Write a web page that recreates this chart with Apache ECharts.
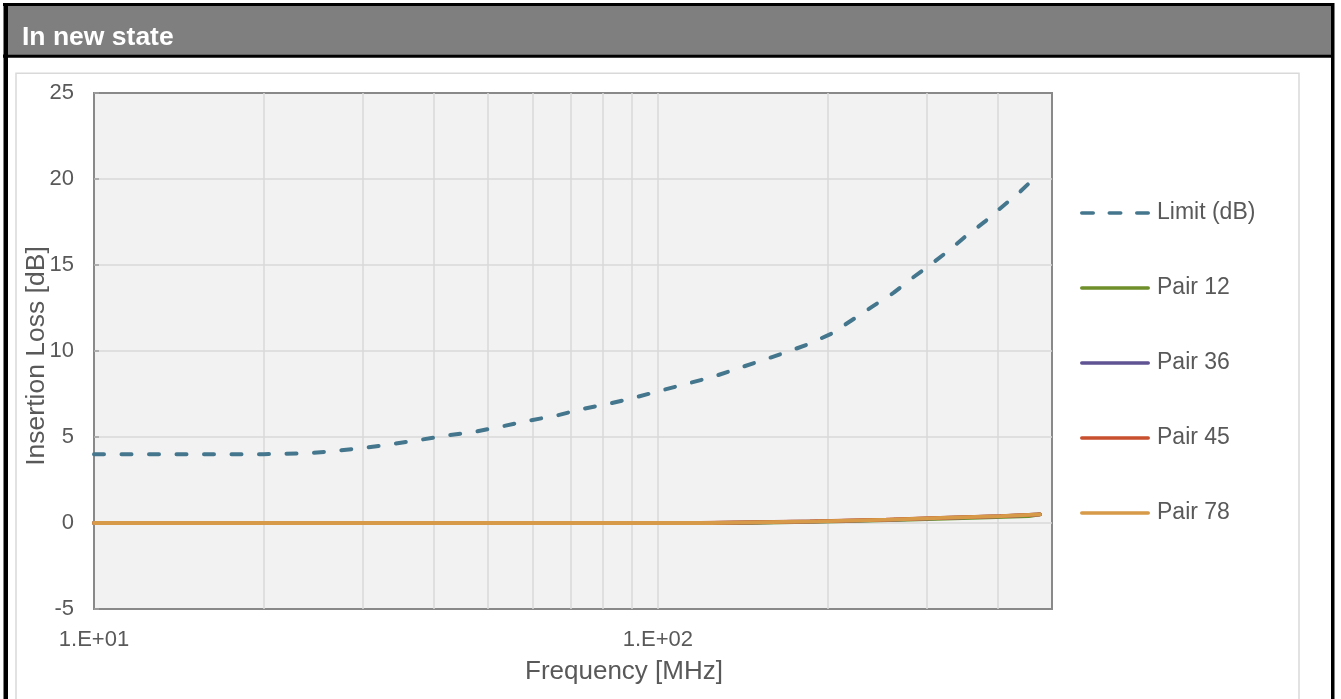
<!DOCTYPE html>
<html>
<head>
<meta charset="utf-8">
<script src="https://cdn.jsdelivr.net/npm/echarts@6/dist/echarts.min.js"></script>
<style>
html,body{margin:0;padding:0;background:#fff;}
#c{width:1341px;height:699px;}
</style>
</head>
<body>
<div id="c"></div>
<script>
// ---- data ----
const titleText = 'In new state';
const seriesNames = ['Limit (dB)', 'Pair 12', 'Pair 36', 'Pair 45', 'Pair 78'];
const limitFreq = [10,15,20,24,27,30,34,38,42,47.5,53,59,66,73,82,91,101,112,125,137,152,168,185,203,220,240,262,282,305,329,352,380,408,437,467,476];
const limitDb   = [4.0,4.0,4.0,4.05,4.2,4.36,4.6,4.84,5.08,5.31,5.62,5.95,6.24,6.61,6.94,7.29,7.69,8.08,8.49,8.93,9.42,9.9,10.4,11.0,11.76,12.58,13.39,14.22,15.04,15.87,16.69,17.52,18.39,19.2,20.1,20.35];
// change points [frequency MHz, insertion loss dB]
const pair12 = [[10,0],[140,0.1],[207,0.2],[280,0.3],[360,0.4],[455,0.5],[476,0.5]];
const pair36 = [[10,0],[126,0.1],[194,0.2],[262,0.3],[322,0.4],[410,0.5],[476,0.5]];
const pair45 = [[10,0],[119,0.1],[186,0.2],[254,0.3],[316,0.4],[404,0.5],[476,0.5]];
const pair78 = [[10,0],[124,0.1],[192,0.2],[258,0.3],[318,0.4],[406,0.5],[476,0.5]];
const minorGridFreq = [20,30,40,50,60,70,80,90,200,300,400];
const yTicks = {min: -5, max: 25, interval: 5};
const xRange = {min: 10, max: 500};
const colors = ['#44768d', '#6f8f2a', '#5f5393', '#c9502f', '#d69a48'];

const FONT = "'Liberation Sans', Arial, sans-serif";
const chart = echarts.init(document.getElementById('c'), null, {renderer: 'canvas', width: 1341, height: 699});

const solidIcon = 'path://M1.75,0H68.25A1.75,1.75,0,0,1,68.25,3.5H1.75A1.75,1.75,0,0,1,1.75,0Z';
const dashIcon = 'path://M1.75,0H13.25A1.75,1.75,0,0,1,13.25,3.5H1.75A1.75,1.75,0,0,1,1.75,0Z' +
  'M29.25,0H40.75A1.75,1.75,0,0,1,40.75,3.5H29.25A1.75,1.75,0,0,1,29.25,0Z' +
  'M56.75,0H68.25A1.75,1.75,0,0,1,68.25,3.5H56.75A1.75,1.75,0,0,1,56.75,0Z';

function pairSeries(name, data, color) {
  return {
    name: name, type: 'line', data: data, step: 'end',
    symbol: 'none', showSymbol: false, z: 2,
    lineStyle: {color: color, width: 3.8, cap: 'round'},
    itemStyle: {color: color},
    emphasis: {disabled: true}
  };
}

const option = {
  animation: false,
  textStyle: {fontFamily: FONT},
  graphic: [
    {type: 'rect', z: 100, silent: true, shape: {x: 8, y: 6, width: 1323, height: 48.5}, style: {fill: '#7f7f7f'}},
    {type: 'rect', z: 101, silent: true, shape: {x: 3, y: 3, width: 1331, height: 3}, style: {fill: '#000'}},
    {type: 'rect', z: 101, silent: true, shape: {x: 3.5, y: 3, width: 4.5, height: 700}, style: {fill: '#000'}},
    {type: 'rect', z: 101, silent: true, shape: {x: 1331, y: 3, width: 3.5, height: 700}, style: {fill: '#000'}},
    {type: 'rect', z: 101, silent: true, shape: {x: 3, y: 54.5, width: 1331, height: 3.2}, style: {fill: '#000'}},
    {type: 'rect', z: -10, silent: true, shape: {x: 16, y: 73.3, width: 1283, height: 640}, style: {fill: 'none', stroke: '#d9d9d9', lineWidth: 1.5}},
    {type: 'text', z: 102, silent: true, x: 22, y: 37.5,
      style: {text: titleText, fill: '#ffffff', font: "bold 26.5px 'Liberation Sans', Arial, sans-serif", textVerticalAlign: 'middle', textAlign: 'left'}}
  ],
  legend: {
    orient: 'vertical', left: 1080, top: 201,
    itemWidth: 70, itemHeight: 3.5, itemGap: 51, padding: 0,
    data: seriesNames.map((n, i) => ({name: n, icon: i === 0 ? dashIcon : solidIcon})),
    selectedMode: false,
    textStyle: {fontSize: 23, color: '#595959', fontFamily: FONT, lineHeight: 24, padding: [0, 0, 0, 2]}
  },
  grid: {
    left: 94, right: 289, top: 93, bottom: 90,
    show: true, backgroundColor: '#f2f2f2', borderColor: '#898989', borderWidth: 2,
    containLabel: false
  },
  xAxis: {
    type: 'log', logBase: 10, min: xRange.min, max: xRange.max,
    name: 'Frequency [MHz]', nameLocation: 'middle', nameGap: 50, nameMoveOverlap: false,
    nameTextStyle: {fontSize: 26, color: '#595959', fontFamily: FONT, padding: [0, 0, 0, 102]},
    axisLine: {show: false},
    axisTick: {show: false},
    axisLabel: {
      fontSize: 22, color: '#595959', margin: 20, fontFamily: FONT,
      formatter: function (v) {
        const e = Math.log10(v);
        const r = Math.round(e);
        if (Math.abs(e - r) > 1e-6) return '';
        return '1.E+' + (r < 10 ? '0' + r : '' + r);
      }
    },
    splitLine: {show: true, showMinLine: false, showMaxLine: false, lineStyle: {color: '#d9d9d9', width: 1.5}}
  },
  yAxis: {
    type: 'value', min: yTicks.min, max: yTicks.max, interval: yTicks.interval,
    name: 'Insertion Loss [dB]', nameLocation: 'middle', nameGap: 44, nameMoveOverlap: false,
    nameTextStyle: {fontSize: 26.5, color: '#595959', fontFamily: FONT, padding: [0, 10, 0, 0]},
    axisLine: {show: false},
    axisTick: {show: true, inside: true, length: 5, lineStyle: {color: '#a0a0a0', width: 1.5}},
    axisLabel: {fontSize: 22, color: '#595959', margin: 20, fontFamily: FONT},
    splitLine: {show: true, showMinLine: false, showMaxLine: false, lineStyle: {color: '#d9d9d9', width: 1.5}}
  },
  series: [
    {
      name: seriesNames[0], type: 'line',
      data: limitFreq.map((f, i) => [f, limitDb[i]]),
      symbol: 'none', showSymbol: false, z: 2,
      lineStyle: {color: colors[0], width: 4, type: [10, 17.5], cap: 'round'},
      itemStyle: {color: colors[0]},
      emphasis: {disabled: true},
      markLine: {
        silent: true, z: 1, symbol: ['none', 'none'], animation: false,
        label: {show: false},
        lineStyle: {color: '#d9d9d9', width: 1.5, type: 'solid'},
        emphasis: {disabled: true},
        data: minorGridFreq.map(f => ({xAxis: f}))
      }
    },
    pairSeries(seriesNames[1], pair12, colors[1]),
    pairSeries(seriesNames[2], pair36, colors[2]),
    pairSeries(seriesNames[3], pair45, colors[3]),
    pairSeries(seriesNames[4], pair78, colors[4])
  ]
};
chart.setOption(option);
</script>
</body>
</html>
